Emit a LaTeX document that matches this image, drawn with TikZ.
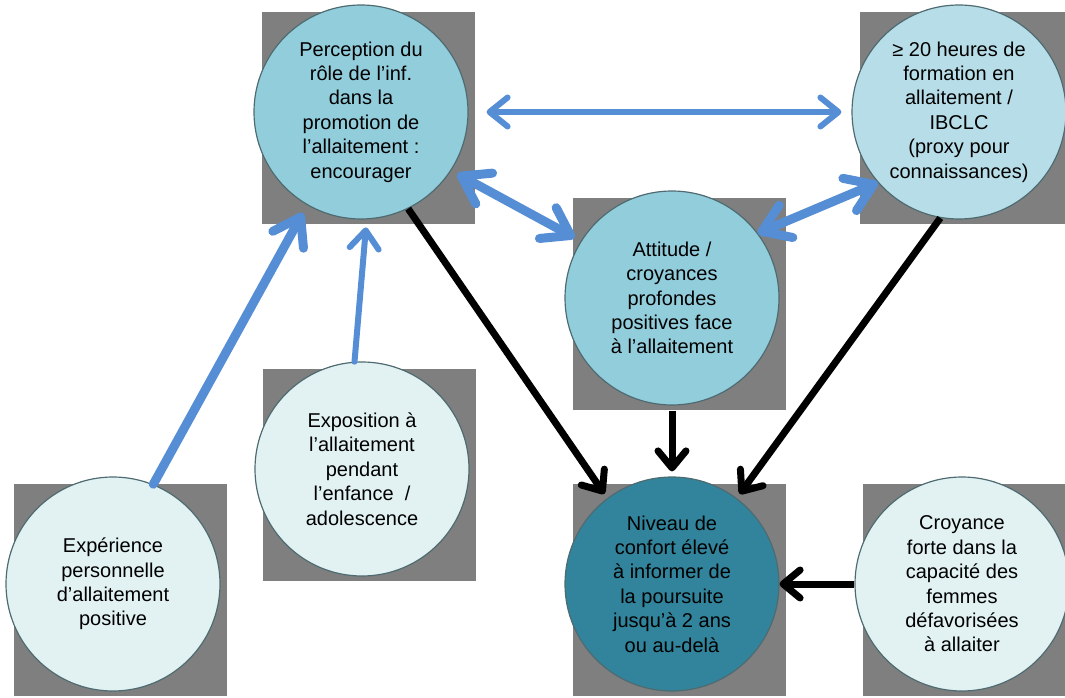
\documentclass[tikz,border=0pt]{standalone}
\usepackage{fontspec}
\setmainfont{Liberation Sans}
\usetikzlibrary{arrows.meta,calc,backgrounds}

\definecolor{boxgray}{HTML}{7F7F7F}
\definecolor{rimgray}{HTML}{4F6B72}
\definecolor{midblue}{HTML}{92CDDC}
\definecolor{paleblue}{HTML}{B7DEE8}
\definecolor{iceblue}{HTML}{E2F2F3}
\definecolor{deepteal}{HTML}{31849B}
\definecolor{linkblue}{HTML}{558ED5}

\tikzset{
  bulle/.style={circle, draw=rimgray, line width=1.2pt, minimum size=214pt,
    inner sep=0pt, align=center, font=\fontsize{20}{24.4}\selectfont},
  lienfin/.style={linkblue, line width=6pt, line cap=round,
    >={Straight Barb[length=18pt,width=29pt,round]}},
  lienfort/.style={linkblue, line width=9pt, line cap=round,
    >={Straight Barb[length=26pt,width=35pt,round]}},
  effet/.style={black, line width=7pt,
    >={Straight Barb[length=17pt,width=28pt,round]}}
}

\begin{document}
\begin{tikzpicture}[x=1pt, y=-1pt]
	\useasboundingbox (0,0) rectangle (1065,698);
	%\draw[help lines] (0,0) grid[step=100] (1065,698);
	\node[bulle, fill=midblue] (perc) at (361,112) {Perception du\\rôle de l’inf.\\dans la\\promotion de\\l’allaitement :\\encourager};
	\node[bulle, fill=paleblue] (form) at (959,112) {≥ 20 heures de\\formation en\\allaitement /\\IBCLC\\(proxy pour\\connaissances)};
	\node[bulle, fill=midblue] (attit) at (672,298) {Attitude /\\croyances\\profondes\\positives face\\à l’allaitement};
	\node[bulle, fill=iceblue] (expo) at (362,469) {Exposition à\\l’allaitement\\pendant\\l’enfance~ /\\adolescence};
	\node[bulle, fill=iceblue] (exper) at (113,584) {Expérience\\personnelle\\d’allaitement\\positive};
	\node[bulle, fill=deepteal] (niveau) at (672,584) {Niveau de\\confort élevé\\à informer de\\la poursuite\\jusqu’à 2 ans\\ou au-delà};
	\node[bulle, fill=iceblue] (croy) at (962,584) {Croyance\\forte dans la\\capacité des\\femmes\\défavorisées\\à allaiter};
	% gray squares behind the circles
	\begin{scope}[on background layer]
		\clip (0,0) rectangle (1065,698);
		\foreach \n in {perc,form,attit,expo,exper,niveau,croy}
			\fill[boxgray] ($(\n.center)+(-99,-100)$) rectangle +(213,212);
	\end{scope}
	% blue links
	\draw[lienfin, <->, shorten <=18pt, shorten >=10pt] (perc.east) -- (form.west);
	\draw[lienfort, <->, shorten <=7pt, shorten >=7pt] (perc.-33) -- (attit.148);
	\draw[lienfort, <->] (attit.37) -- (form.-139);
	\draw[lienfort, ->, shorten >=9pt] (exper.68) -- (perc.-120);
	\draw[lienfin, ->, shorten >=8pt] (expo.94) -- (perc.-87);
	% black links
	\draw[effet, ->, shorten >=5pt] (perc.-64) -- (niveau.127);
	\draw[effet, ->, shorten <=5pt, shorten >=5pt] (attit.south) -- (niveau.north);
	\draw[effet, ->, shorten >=5pt] (form.-100) -- (niveau.53);
	\draw[effet, ->] (croy.180) -- (niveau.0);
\end{tikzpicture}
\end{document}
